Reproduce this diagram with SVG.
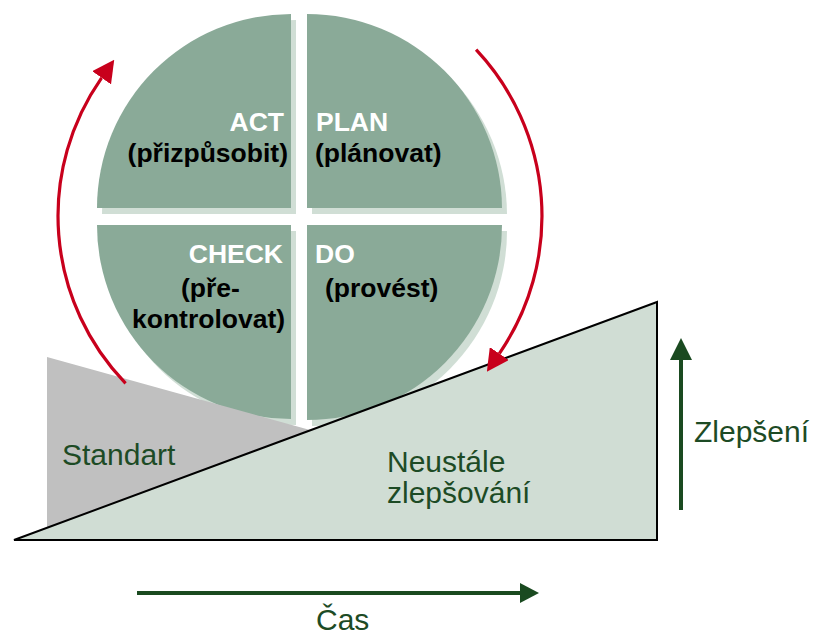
<svg xmlns="http://www.w3.org/2000/svg" width="814" height="635" viewBox="0 0 814 635">
  <style>
    .quad { fill: #8aaa98; }
    .shade { fill: #d0ded5; }
    .q-title { font-family: "Liberation Sans", Arial, sans-serif; font-size: 26.5px; font-weight: bold; fill: #ffffff; }
    .q-text { font-family: "Liberation Sans", Arial, sans-serif; font-size: 26.5px; font-weight: bold; fill: #000000; }
    .label { font-family: "Liberation Sans", Arial, sans-serif; font-size: 30px; fill: #1d4b25; }
    .cycle { fill: none; stroke: #c8001c; stroke-width: 3.2; }
    .axis { fill: none; stroke: #1a4a20; stroke-width: 4; }
  </style>
  <defs>
    <marker id="redHead" markerUnits="userSpaceOnUse" markerWidth="22" markerHeight="23" viewBox="0 0 22 23" refX="0" refY="11.5" orient="auto">
      <path d="M0,0 L22,11.5 L0,23 Z" fill="#c8001c"/>
    </marker>
    <marker id="greenHeadH" markerUnits="userSpaceOnUse" markerWidth="19" markerHeight="20" viewBox="0 0 19 20" refX="0" refY="10" orient="auto">
      <path d="M0,0 L19,10 L0,20 Z" fill="#1a4a20"/>
    </marker>
    <marker id="greenHeadV" markerUnits="userSpaceOnUse" markerWidth="22" markerHeight="22" viewBox="0 0 22 22" refX="0" refY="11" orient="auto">
      <path d="M0,0 L22,11 L0,22 Z" fill="#1a4a20"/>
    </marker>
  </defs>

  <!-- PDCA wheel: four quadrants, each with a soft offset shadow -->
  <g id="act">
    <path class="shade" d="M296,214 L102,214 A194,194 0 0 1 296,20 Z"/>
    <path class="quad" d="M291,208 L97,208 A194,194 0 0 1 291,14 Z"/>
    <text class="q-title" x="284" y="131" text-anchor="end">ACT</text>
    <text class="q-text" x="288" y="162" text-anchor="end">(přizpůsobit)</text>
  </g>
  <g id="plan">
    <path class="shade" d="M312,214 L312,20 A195,195 0 0 1 507,214 Z"/>
    <path class="quad" d="M307,208 L307,14 A195,195 0 0 1 502,208 Z"/>
    <text class="q-title" x="316" y="131">PLAN</text>
    <text class="q-text" x="315" y="162">(plánovat)</text>
  </g>
  <g id="check">
    <path class="shade" d="M296,231 L296,425 A194,194 0 0 1 102,231 Z"/>
    <path class="quad" d="M291,225 L291,419 A194,194 0 0 1 97,225 Z"/>
    <text class="q-title" x="283" y="263" text-anchor="end">CHECK</text>
    <text class="q-text" x="181" y="297">(pře-</text>
    <text class="q-text" x="132" y="328">kontrolovat)</text>
  </g>
  <g id="do">
    <path class="shade" d="M312,231 L507,231 A195,195 0 0 1 312,426 Z"/>
    <path class="quad" d="M307,225 L502,225 A195,195 0 0 1 307,420 Z"/>
    <text class="q-title" x="315" y="263">DO</text>
    <text class="q-text" x="325" y="297">(provést)</text>
  </g>

  <!-- Standard level wedge -->
  <g id="standart">
    <polygon points="47,357 310,430 47,532" fill="#c0c0c0"/>
    <text class="label" x="62" y="465">Standart</text>
  </g>

  <!-- Continuous improvement ramp -->
  <g id="zlepsovani">
    <polygon points="14,540 657,302 657,540" fill="#d0ddd4" stroke="#000000" stroke-width="2" stroke-linejoin="miter"/>
    <text class="label" x="387" y="472">Neustále</text>
    <text class="label" x="387" y="503">zlepšování</text>
  </g>

  <!-- Axis labels -->
  <g id="zlepseni">
    <text class="label" x="694" y="442">Zlepšení</text>
  </g>
  <g id="cas">
    <text class="label" x="316" y="630">Čas</text>
  </g>

  <!-- Cycle arrows and axis arrows -->
  <g id="connectors">
    <path class="cycle" d="M125.6,383.4 A241,241 0 0 1 101.6,77.8" marker-end="url(#redHead)"/>
    <path class="cycle" d="M476.1,49.7 A243,243 0 0 1 499.3,353.6" marker-end="url(#redHead)"/>
    <line class="axis" x1="137" y1="593" x2="520" y2="593" marker-end="url(#greenHeadH)"/>
    <line class="axis" x1="681" y1="510" x2="681" y2="360" marker-end="url(#greenHeadV)"/>
  </g>
</svg>
